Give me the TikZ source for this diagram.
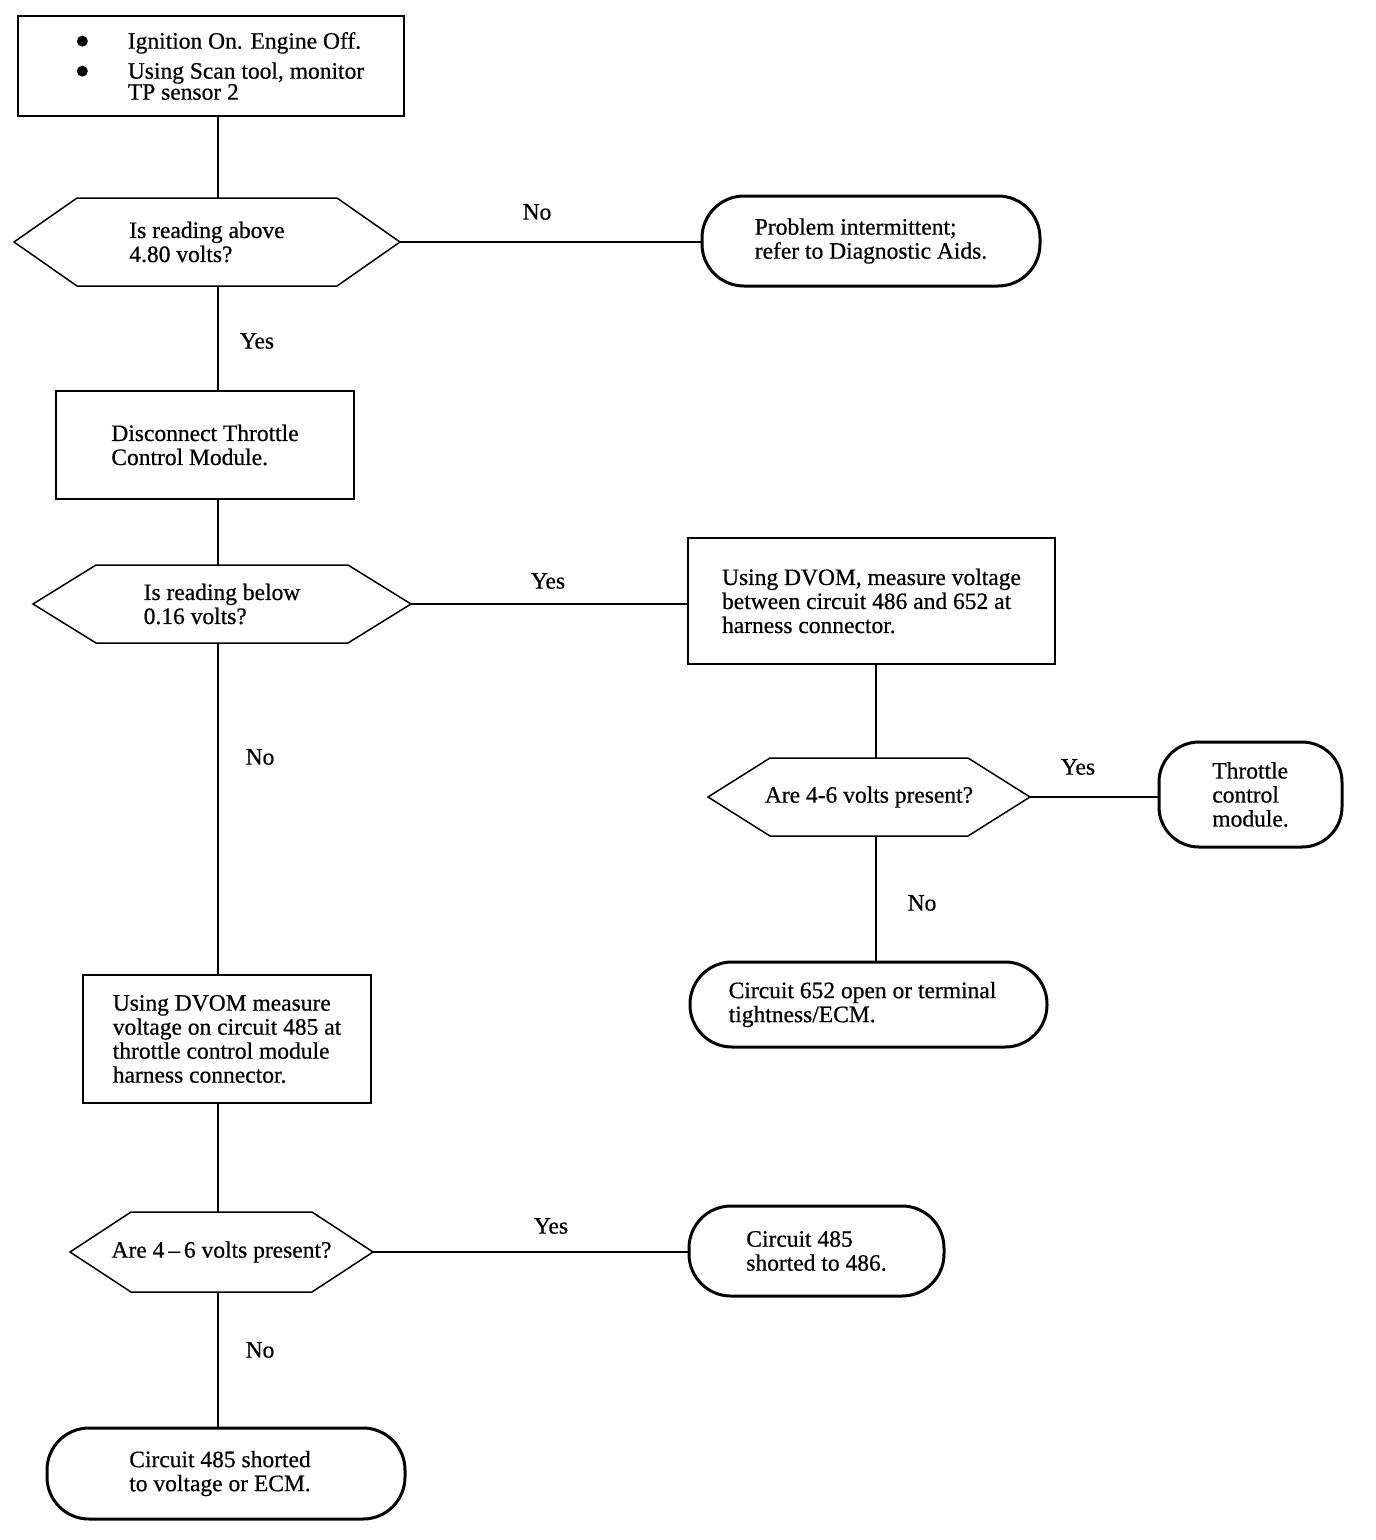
\documentclass[tikz,border=0pt]{standalone}
\usepackage{fontspec}
\setmainfont{Liberation Serif}[FakeBold=0.6]
\newfontfamily\plainserif{Liberation Serif}
\usetikzlibrary{calc}
\newcommand\hexoutline[2]{\draw[hexline] (#1.west) -- ($(#1.north west)+(#2,0)$) -- ($(#1.north east)+(-#2,0)$) -- (#1.east) -- ($(#1.south east)+(-#2,0)$) -- ($(#1.south west)+(#2,0)$) -- cycle;}
\newcommand\bul{\makebox[51pt][l]{\raisebox{2pt}{\tikz\fill[black] (0pt,0pt) circle (5.5pt);}}}
\begin{document}
\begin{tikzpicture}[x=1pt,y=-1pt,
  every node/.style={font=\fontsize{23.5}{24}\selectfont, inner sep=0pt, outer sep=0pt},
  stepbox/.style={draw, line width=1.5pt, align=left},
  hexbox/.style={align=left},
  hexline/.style={line width=1.5pt, line join=miter},
  termbox/.style={draw, line width=3pt, rounded corners=42pt, align=left},
  conn/.style={line width=1.5pt},
  lbl/.style={}]
\useasboundingbox (0,0) rectangle (1376,1540);
\fill[white] (0,0) rectangle (1376,1540);
\coordinate (colA) at (218,0);
\coordinate (colB) at (876,0);

% boxes
\node[stepbox, minimum width=386pt, minimum height=100pt] (b1) at (211,66)
  {\hspace*{19pt}\bul Ignition On. Engine Off.\\[6pt]
   \hspace*{19pt}\bul Using Scan tool, monitor\\[-3pt]
   \hspace*{19pt}\hspace*{51pt}TP sensor 2};
\node[stepbox, minimum width=298pt, minimum height=108pt] (b2) at (205,445)
  {Disconnect Throttle\\Control Module.};
\node[stepbox, minimum width=367pt, minimum height=126pt] (b3) at (871.5,601)
  {Using DVOM, measure voltage\\between circuit 486 and 652 at\\harness connector.};
\node[stepbox, minimum width=288pt, minimum height=128pt] (b4) at (227,1039)
  {Using DVOM measure\\voltage on circuit 485 at\\throttle control module\\harness connector.};

% hexagons
\node[hexbox, minimum width=386pt, minimum height=88pt] (h1) at (207,242)
  {Is reading above\\4.80 volts?};
\hexoutline{h1}{63}
\node[hexbox, minimum width=378pt, minimum height=78pt] (h2) at (222,604)
  {Is reading below\\0.16 volts?};
\hexoutline{h2}{63}
\node[hexbox, minimum width=322pt, minimum height=78pt] (h3) at (869,797)
  {Are 4-6 volts present?};
\hexoutline{h3}{62}
\node[hexbox, minimum width=303pt, minimum height=80pt] (h4) at (221.5,1252)
  {Are 4\,--\,6 volts present?};
\hexoutline{h4}{61}

% terminals
\node[termbox, minimum width=338pt, minimum height=90pt] (t1) at (871,241)
  {Problem intermittent;\\refer to Diagnostic Aids.};
\node[termbox, rounded corners=40pt, minimum width=183pt, minimum height=105pt] (t2) at (1250.5,794.5)
  {Throttle\\control\\module.};
\node[termbox, minimum width=357pt, minimum height=85pt] (t3) at (868.5,1004.5)
  {Circuit 652 open or terminal\hspace*{12pt}\\tightness/ECM.};
\node[termbox, minimum width=255pt, minimum height=90pt] (t4) at (816.5,1251)
  {Circuit 485\\shorted to 486.};
\node[termbox, minimum width=358pt, minimum height=91pt] (t5) at (226,1473.5)
  {Circuit 485 shorted\hspace*{12pt}\\to voltage or ECM.};

% connectors
\draw[conn] (b1.south -| colA) -- (h1.north -| colA);
\draw[conn] (h1.east) -- (h1.east -| t1.west);
\draw[conn] (h1.south -| colA) -- (b2.north -| colA);
\draw[conn] (b2.south -| colA) -- (h2.north -| colA);
\draw[conn] (h2.east) -- (h2.east -| b3.west);
\draw[conn] (b3.south -| colB) -- (h3.north -| colB);
\draw[conn] (h3.east) -- (h3.east -| t2.west);
\draw[conn] (h3.south -| colB) -- (t3.north -| colB);
\draw[conn] (h2.south -| colA) -- (b4.north -| colA);
\draw[conn] (b4.south -| colA) -- (h4.north -| colA);
\draw[conn] (h4.east) -- (h4.east -| t4.west);
\draw[conn] (h4.south -| colA) -- (t5.north -| colA);

% labels
\node[lbl] (l1) at (537,212) {No};
\node[lbl] (l2) at (257,341) {Yes};
\node[lbl] (l3) at (548,581) {Yes};
\node[lbl] (l4) at (1078,767) {Yes};
\node[lbl] (l5) at (922,903) {No};
\node[lbl] (l6) at (260,757) {No};
\node[lbl] (l7) at (551,1226) {Yes};
\node[lbl] (l8) at (260,1350) {No};
\end{tikzpicture}
\end{document}
